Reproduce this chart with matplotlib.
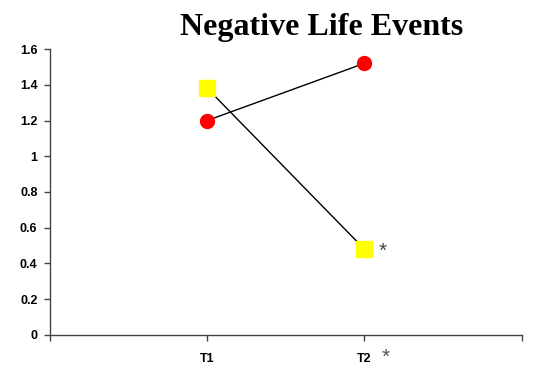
import matplotlib
matplotlib.use("Agg")
import matplotlib.pyplot as plt

categories = ["T1", "T2"]
positive = [1.2, 1.52]      # red circles
negative = [1.38, 0.48]     # yellow squares
y_ticks = [0, 0.2, 0.4, 0.6, 0.8, 1, 1.2, 1.4, 1.6]
y_labels = ["0", "0.2", "0.4", "0.6", "0.8", "1", "1.2", "1.4", "1.6"]

fig = plt.figure(figsize=(5.33, 3.75), dpi=100, facecolor="white")
ax = fig.add_axes([0.0938, 0.1067, 0.885, 0.7626])

xs = [1, 2]
ax.plot(xs, positive, color="black", linewidth=1, marker="o", markersize=10,
        markerfacecolor="red", markeredgecolor="red", zorder=3)
ax.plot(xs, negative, color="black", linewidth=1, marker="s", markersize=11,
        markerfacecolor="yellow", markeredgecolor="yellow", zorder=3)

# significance mark next to the T2 square
ax.annotate("*", xy=(2, negative[1]), xytext=(13, -1.5), textcoords="offset points",
            fontsize=15, color="#444444", family="Liberation Sans",
            ha="center", va="center")

ax.set_xlim(0, 3)
ax.set_ylim(0, 1.6)
ax.set_xticks([0, 1, 2, 3])
ax.set_xticklabels(["", categories[0], categories[1], ""])
ax.set_yticks(y_ticks)
ax.set_yticklabels(y_labels)

for lab in ax.get_xticklabels() + ax.get_yticklabels():
    lab.set_family("Liberation Sans")
    lab.set_fontweight("bold")
    lab.set_fontsize(9)

ax.tick_params(axis="x", direction="out", length=4, width=1, color="#444444", pad=9)
ax.tick_params(axis="y", direction="out", length=4, width=1, color="#444444", pad=5)

for s in ["top", "right"]:
    ax.spines[s].set_visible(False)
for s in ["left", "bottom"]:
    ax.spines[s].set_color("#444444")
    ax.spines[s].set_linewidth(1)

# asterisk beside the T2 tick label
ax.annotate("*", xy=(2, 0), xytext=(15, -16), textcoords="offset points",
            fontsize=15, color="#555555", family="Liberation Sans",
            ha="center", va="center")

fig.text(0.604, 0.928, "Negative Life Events", ha="center", va="center",
         family="Liberation Serif", fontweight="bold", fontsize=23)

fig.savefig("out.png", dpi=100, facecolor="white")
